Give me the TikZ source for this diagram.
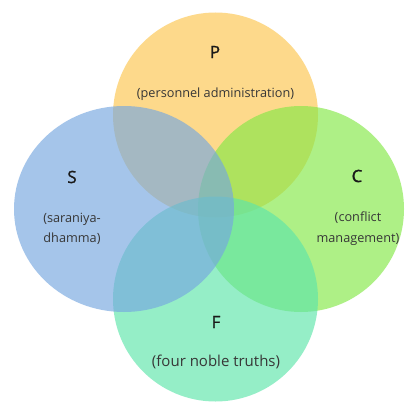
\documentclass[tikz,border=0pt]{standalone}
\usepackage{fontspec}
\setmainfont{Open Sans}
\newfontfamily\headfont[FakeBold=1.2]{Open Sans}
\definecolor{cTop}{RGB}{252,198,78}
\definecolor{cLeft}{RGB}{117,167,224}
\definecolor{cRight}{RGB}{132,232,70}
\definecolor{cBot}{RGB}{93,229,170}
\definecolor{txt}{RGB}{55,55,55}
\definecolor{head}{RGB}{25,25,25}
\begin{document}
\begin{tikzpicture}[x=1pt,y=-1pt,
  blob/.style={fill opacity=0.65,draw=none},
  letter/.style={text=head,font=\headfont\fontsize{17}{20}\selectfont,inner sep=0pt},
  desc/.style={text=txt,font=\fontsize{12.7}{15}\selectfont,inner sep=0pt,align=center}]
\useasboundingbox (0,0) rectangle (406,401);
\fill[white] (0,0) rectangle (406,401);
\fill[blob,cTop] (215.5,115) circle (102.5);
\fill[blob,cRight] (301,209) circle (103);
\fill[blob,cBot] (215.5,299) circle (102.5);
\fill[blob,cLeft] (124,209) ellipse [x radius=110,y radius=103];
\node[letter] (P) at (215,52) {P};
\node[desc] (Pd) at (215.5,94) {(personnel administration)};
\node[letter] (S) at (72,177) {S};
\node[desc] (Sd1) at (72,219) {(saraniya-};
\node[desc] (Sd2) at (72,239) {dhamma)};
\node[letter] (C) at (357,176) {C};
\node[desc] (Cd1) at (358,218) {(conflict};
\node[desc] (Cd2) at (358,239) {management)};
\node[letter] (F) at (216,322) {F};
\node[desc,font=\fontsize{15}{18}\selectfont] (Fd) at (216,362) {(four noble truths)};
\end{tikzpicture}
\end{document}
